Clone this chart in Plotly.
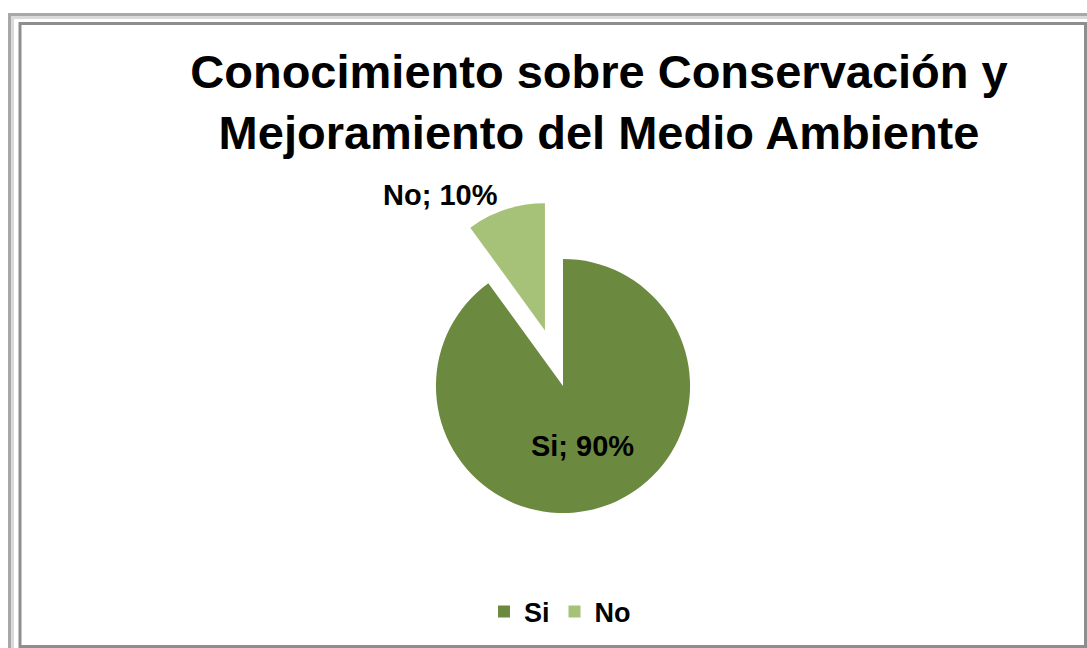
import plotly.graph_objects as go

labels = ["Si", "No"]
values = [90, 10]
colors = ["#6B8A3F", "#A6C279"]
pulls = [0, 0.46]
title_lines = ["Conocimiento sobre Conservación y", "Mejoramiento del Medio Ambiente"]

W, H = 1087, 648
FONT = "Liberation Sans, Arial, sans-serif"

def px(x):
    return x / W

def py(y):
    return 1 - y / H

fig = go.Figure()
fig.add_trace(go.Pie(
    labels=labels,
    values=values,
    marker=dict(colors=colors, line=dict(width=0)),
    pull=pulls,
    sort=False,
    direction="clockwise",
    rotation=0,
    texttemplate="%{label}; %{percent:.0%}",
    textposition=["inside", "outside"],
    insidetextorientation="horizontal",
    textfont=dict(family=FONT, size=29, color="#000000", weight="bold"),
    outsidetextfont=dict(family=FONT, size=29, color="#000000", weight="bold"),
    insidetextfont=dict(family=FONT, size=29, color="#000000", weight="bold"),
    domain=dict(x=[px(563 - 185.5), px(563 + 185.5)], y=[py(386 + 185.5), py(386 - 185.5)]),
    hoverinfo="label+percent",
))

shapes = [
    dict(type="rect", xref="paper", yref="paper", x0=px(9.5), y0=py(700), x1=px(1120), y1=py(14.5),
         line=dict(color="#a8a8a8", width=3), layer="above"),
    dict(type="rect", xref="paper", yref="paper", x0=px(12.5), y0=py(700), x1=px(1120), y1=py(17.5),
         line=dict(color="#dadada", width=3), layer="above"),
    dict(type="rect", xref="paper", yref="paper", x0=px(20), y0=py(646.5), x1=px(1085.5), y1=py(23.5),
         line=dict(color="#8e8e8e", width=3), layer="above"),
]

fig.update_layout(
    width=W, height=H,
    margin=dict(l=0, r=0, t=0, b=0),
    paper_bgcolor="#ffffff",
    plot_bgcolor="#ffffff",
    title=dict(
        text="<br>".join(title_lines),
        x=px(599), xanchor="center",
        y=py(88), yanchor="top", yref="container",
        font=dict(family=FONT, size=47, color="#000000", weight="bold"),
    ),
    showlegend=True,
    legend=dict(
        orientation="h",
        x=px(560), xanchor="center",
        y=py(612), yanchor="middle",
        font=dict(family=FONT, size=27, color="#000000", weight="bold"),
        itemsizing="constant",
    ),
    shapes=shapes,
)

fig.write_html("out.html")
